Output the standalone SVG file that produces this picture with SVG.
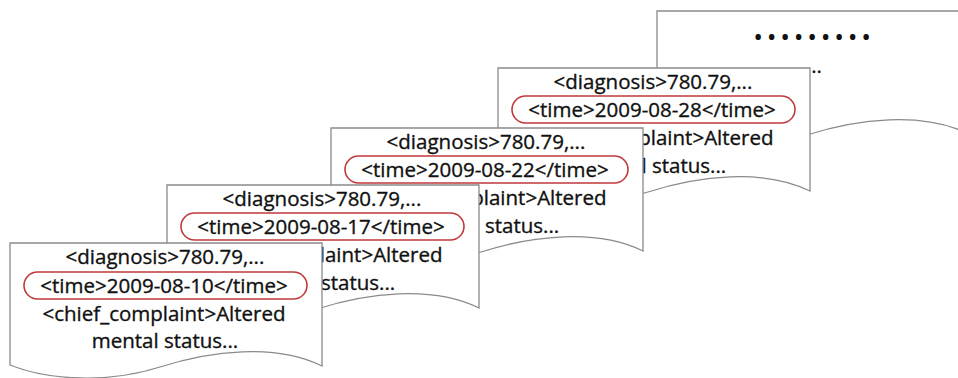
<svg xmlns="http://www.w3.org/2000/svg" width="958" height="378" viewBox="0 0 958 378">
<style>
.doc{fill:#ffffff;stroke:#8a8a8a;stroke-width:1.3}
.hl{fill:none;stroke:#c0393b;stroke-width:1.6}
.t{font-family:"Open Sans","Liberation Sans",sans-serif;font-size:20.5px;fill:#111111;stroke:#111111;stroke-width:0.35px;text-anchor:middle}
.dots{font-family:"Open Sans","Liberation Sans",sans-serif;font-size:26px;fill:#111111;text-anchor:middle;letter-spacing:3.7px}
</style>
<defs>
<path id="docShape" d="M0,0 H312 V123 C265,100 200,108 150,124 C100,140 40,138 0,122 Z"/>
</defs>
<rect width="958" height="378" fill="#ffffff"/>
<g id="doc5" transform="translate(657,11)">
<use href="#docShape" class="doc"/>
<text class="dots" x="157" y="34.5">•••••••••</text>
<text class="t" x="165" y="62" style="text-anchor:end">...</text>
</g>
<g id="doc4" transform="translate(498,68)">
<use href="#docShape" class="doc"/>
<text class="t" x="155" y="21">&lt;diagnosis&gt;780.79,...</text>
<rect class="hl" x="14" y="28" width="283" height="27" rx="13.5"/>
<text class="t" x="154" y="49">&lt;time&gt;2009-08-28&lt;/time&gt;</text>
<text class="t" x="154" y="77">&lt;chief_complaint&gt;Altered</text>
<text class="t" x="155" y="105">mental status...</text>
</g>
<g id="doc3" transform="translate(331,128)">
<use href="#docShape" class="doc"/>
<text class="t" x="155" y="21">&lt;diagnosis&gt;780.79,...</text>
<rect class="hl" x="14" y="28" width="283" height="27" rx="13.5"/>
<text class="t" x="154" y="49">&lt;time&gt;2009-08-22&lt;/time&gt;</text>
<text class="t" x="154" y="77">&lt;chief_complaint&gt;Altered</text>
<text class="t" x="155" y="105">mental status...</text>
</g>
<g id="doc2" transform="translate(167,185)">
<use href="#docShape" class="doc"/>
<text class="t" x="155" y="21">&lt;diagnosis&gt;780.79,...</text>
<rect class="hl" x="14" y="28" width="283" height="27" rx="13.5"/>
<text class="t" x="154" y="49">&lt;time&gt;2009-08-17&lt;/time&gt;</text>
<text class="t" x="154" y="77">&lt;chief_complaint&gt;Altered</text>
<text class="t" x="155" y="105">mental status...</text>
</g>
<g id="doc1" transform="translate(10,243)">
<use href="#docShape" class="doc"/>
<text class="t" x="155" y="21">&lt;diagnosis&gt;780.79,...</text>
<rect class="hl" x="14" y="29" width="283" height="27" rx="13.5"/>
<text class="t" x="154" y="50">&lt;time&gt;2009-08-10&lt;/time&gt;</text>
<text class="t" x="154" y="78">&lt;chief_complaint&gt;Altered</text>
<text class="t" x="155" y="105">mental status...</text>
</g>
<g id="connectors"/>
</svg>
